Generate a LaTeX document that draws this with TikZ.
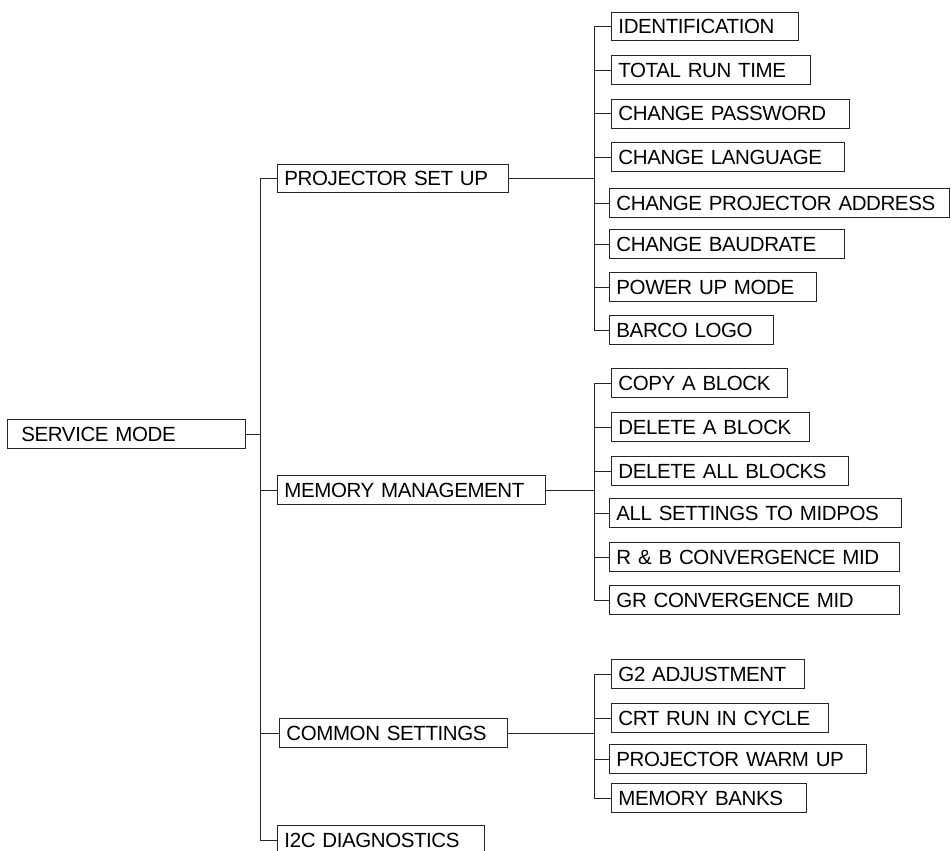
\documentclass[tikz,border=0pt]{standalone}
\usepackage{fontspec}
\setmainfont{Liberation Sans}[LetterSpace=-2]
\newcommand\boxfont{\fontsize{20.5}{22}\selectfont\fontdimen2\font=2.5pt\fontdimen3\font=0pt\fontdimen4\font=0pt\relax}
\begin{document}
\begin{tikzpicture}[x=1pt,y=-1pt,
  bx/.style={draw=black!85, line width=0.9pt, rectangle, anchor=west,
    inner xsep=7pt, inner ysep=0pt, minimum height=28.5pt,
    text height=14.6pt, text depth=0pt, align=left,
    font=\boxfont},
  ln/.style={draw=black!85, line width=0.9pt}]
\useasboundingbox (0,0) rectangle (951,851);
% level 1
\node[bx, inner xsep=14pt, text width=210pt] (sm) at (7,434) {SERVICE MODE};
% level 2
\node[bx, text width=217pt] (psu) at (277,178.5) {PROJECTOR SET UP};
\node[bx, text width=254pt] (mm) at (277,490) {MEMORY MANAGEMENT};
\node[bx, text width=214pt] (cs) at (279,733) {COMMON SETTINGS};
\node[bx, text width=193pt] (i2c) at (277,840) {I2C DIAGNOSTICS};
% level 3 - projector set up
\node[bx, text width=173pt] (id) at (611,26.5) {IDENTIFICATION};
\node[bx, text width=185pt] (trt) at (611,70) {TOTAL RUN TIME};
\node[bx, text width=224pt] (cp) at (611,113.7) {CHANGE PASSWORD};
\node[bx, text width=219pt] (cl) at (611,157) {CHANGE LANGUAGE};
\node[bx, text width=326pt] (cpa) at (609,203) {CHANGE PROJECTOR ADDRESS};
\node[bx, text width=221pt] (cb) at (609,244) {CHANGE BAUDRATE};
\node[bx, text width=193pt] (pum) at (609,287) {POWER UP MODE};
\node[bx, text width=150pt] (bl) at (609,330) {BARCO LOGO};
% level 3 - memory management
\node[bx, text width=162pt] (cab) at (611,383) {COPY A BLOCK};
\node[bx, text width=184pt] (dab) at (611,427) {DELETE A BLOCK};
\node[bx, text width=223pt] (dalb) at (611,471) {DELETE ALL BLOCKS};
\node[bx, text width=278pt] (asm) at (609,513) {ALL SETTINGS TO MIDPOS};
\node[bx, text width=276pt] (rbc) at (609,557) {R \& B CONVERGENCE MID};
\node[bx, text width=276pt] (grc) at (609,600) {GR CONVERGENCE MID};
% level 3 - common settings
\node[bx, text width=179pt] (g2) at (611,674) {G2 ADJUSTMENT};
\node[bx, text width=203pt] (crt) at (611,718) {CRT RUN IN CYCLE};
\node[bx, text width=243pt] (pwu) at (609,759) {PROJECTOR WARM UP};
\node[bx, text width=181pt] (mb) at (611,798) {MEMORY BANKS};
% spines
\coordinate (sp) at (260,0);
\coordinate (b3) at (594,0);
% level 1 -> level 2
\draw[ln] (sm.east) -- (sm.east -| sp);
\draw[ln] (psu.west) -- (psu.west -| sp) -- (i2c.west -| sp) -- (i2c.west);
\draw[ln] (mm.west) -- (mm.west -| sp);
\draw[ln] (cs.west) -- (cs.west -| sp);
% projector set up branch
\draw[ln] (psu.east) -- (psu.east -| b3);
\draw[ln] (id.west) -- (id.west -| b3) -- (bl.west -| b3) -- (bl.west);
\foreach \n in {trt,cp,cl,cpa,cb,pum}{\draw[ln] (\n.west) -- (\n.west -| b3);}
% memory management branch
\draw[ln] (mm.east) -- (mm.east -| b3);
\draw[ln] (cab.west) -- (cab.west -| b3) -- (grc.west -| b3) -- (grc.west);
\foreach \n in {dab,dalb,asm,rbc}{\draw[ln] (\n.west) -- (\n.west -| b3);}
% common settings branch
\draw[ln] (cs.east) -- (cs.east -| b3);
\draw[ln] (g2.west) -- (g2.west -| b3) -- (mb.west -| b3) -- (mb.west);
\foreach \n in {crt,pwu}{\draw[ln] (\n.west) -- (\n.west -| b3);}
\end{tikzpicture}
\end{document}
